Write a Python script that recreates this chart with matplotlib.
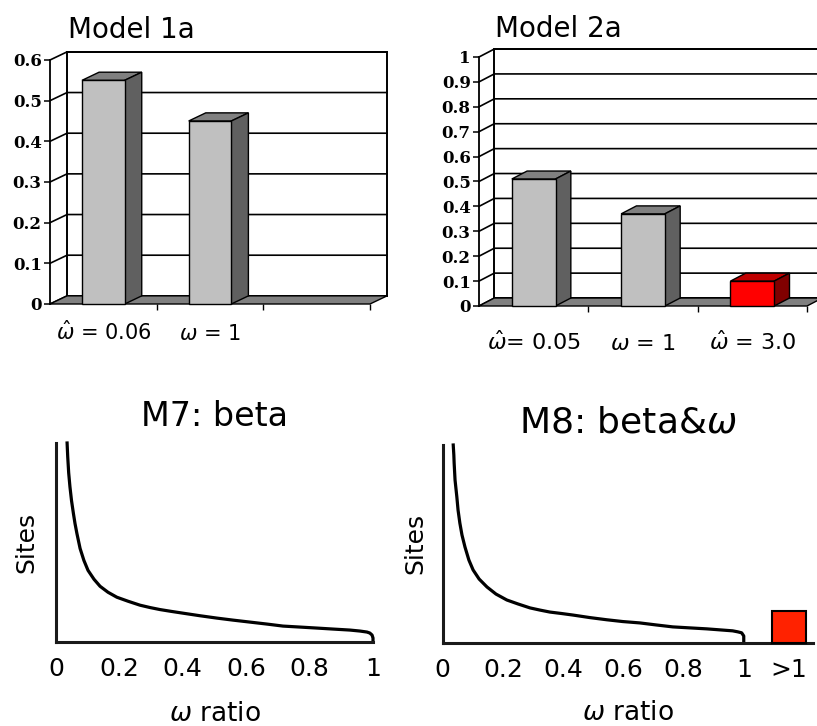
import matplotlib.pyplot as plt
import numpy as np

# Model 1a: proportions of sites in each site class
m1a_cats = [r"$\hat{\omega}$ = 0.06", r"$\omega$ = 1", ""]
m1a_props = [0.55, 0.45]
m1a_ticks = [0, 0.1, 0.2, 0.3, 0.4, 0.5, 0.6]
m1a_ticklabels = ["0", "0.1", "0.2", "0.3", "0.4", "0.5", "0.6"]

# Model 2a
m2a_cats = [r"$\hat{\omega}$= 0.05", r"$\omega$ = 1", r"$\hat{\omega}$ = 3.0"]
m2a_props = [0.51, 0.37, 0.10]
m2a_ticks = [0, 0.1, 0.2, 0.3, 0.4, 0.5, 0.6, 0.7, 0.8, 0.9, 1.0]
m2a_ticklabels = ["0", "0.1", "0.2", "0.3", "0.4", "0.5", "0.6", "0.7", "0.8", "0.9", "1"]

# M7: beta distribution of omega
m7_x = [0.035, 0.037, 0.040, 0.044, 0.049, 0.055, 0.060, 0.066, 0.076,
	0.088, 0.101, 0.120, 0.139, 0.164, 0.192, 0.227, 0.265, 0.297, 0.328,
	0.363, 0.400, 0.454, 0.508, 0.558, 0.612, 0.666, 0.716, 0.770, 0.823,
	0.874, 0.927, 0.959, 0.981, 0.990, 0.997, 1.0, 1.0]
m7_y = [1.0, 0.93, 0.85, 0.78, 0.71, 0.645, 0.595, 0.545, 0.47,
	0.41, 0.36, 0.315, 0.28, 0.25, 0.225, 0.205, 0.185, 0.173, 0.163,
	0.154, 0.145, 0.132, 0.12, 0.11, 0.10, 0.09, 0.08, 0.075, 0.07,
	0.065, 0.06, 0.055, 0.05, 0.045, 0.035, 0.02, 0.0]

# M8: beta & omega
m8_x = [0.035, 0.037, 0.038, 0.041, 0.047, 0.051, 0.057, 0.064, 0.074, 0.087,
	0.101, 0.121, 0.147, 0.177, 0.213, 0.250, 0.290, 0.323, 0.356, 0.393,
	0.432, 0.489, 0.545, 0.598, 0.655, 0.708, 0.764, 0.820, 0.877, 0.920,
	0.963, 0.980, 0.993, 1.0, 1.0, 1.0]
m8_y = [1.0, 0.949, 0.909, 0.823, 0.737, 0.671, 0.605, 0.545, 0.484, 0.418,
	0.368, 0.322, 0.282, 0.246, 0.216, 0.196, 0.176, 0.165, 0.155, 0.148,
	0.14, 0.127, 0.116, 0.107, 0.10, 0.09, 0.08, 0.075, 0.07, 0.065,
	0.06, 0.055, 0.05, 0.034, 0.024, 0.0]
m8_over_x = [1.15]
m8_over_height = [0.16]

ratio_ticks = [0, 0.2, 0.4, 0.6, 0.8, 1.0]
ratio_ticklabels = ["0", "0.2", "0.4", "0.6", "0.8", "1"]

GREY = ("#c0c0c0", "#606060", "#808080")
RED = ("#ff0000", "#800000", "#c00000")

W, H = 817, 726


def px_axes(fig, left, top, right, bottom):
	return fig.add_axes([left / W, 1 - bottom / H, (right - left) / W, (bottom - top) / H])


def bar_panel(ax, values, faces, ticks, ticklabels, cats, dx, dy, label_pad, label_size):
	n = len(cats)
	top = ticks[-1]
	ax.set_xlim(0, n)
	ax.set_ylim(0, top)
	ax.patch.set_visible(False)
	for side in ["top", "right", "bottom"]:
		ax.spines[side].set_visible(False)
	ax.spines["left"].set_linewidth(1.3)
	ax.spines["left"].set_zorder(6)

	# back wall, grid on back wall and side wall, floor
	ax.fill([dx, n + dx, n + dx, dx], [dy, dy, top + dy, top + dy],
		facecolor="white", edgecolor="black", lw=1.4, clip_on=False, zorder=0)
	for t in ticks:
		ax.plot([0, dx, n + dx], [t, t + dy, t + dy], color="black", lw=1.2,
			clip_on=False, zorder=1)
	ax.fill([0, n, n + dx, dx], [0, 0, dy, dy], facecolor="#808080",
		edgecolor="black", lw=1.0, clip_on=False, zorder=2)

	w = 0.4
	xs = np.arange(len(values)) + 0.5
	for x, v, (front, side, lid) in zip(xs, values, faces):
		ax.fill([x - w / 2, x + w / 2, x + w / 2 + dx, x - w / 2 + dx],
			[v, v, v + dy, v + dy], facecolor=lid, edgecolor="black", lw=1.0,
			clip_on=False, zorder=3)
		ax.fill([x + w / 2, x + w / 2 + dx, x + w / 2 + dx, x + w / 2],
			[0, dy, v + dy, v], facecolor=side, edgecolor="black", lw=1.0,
			clip_on=False, zorder=3)
	ax.bar(xs, values, width=w, color=[f[0] for f in faces], edgecolor="black",
		lw=1.0, zorder=4, clip_on=False)

	ax.set_yticks(ticks, ticklabels)
	ax.tick_params(axis="y", length=4, width=1.1, pad=2)
	for lbl in ax.get_yticklabels():
		lbl.set_fontfamily("DejaVu Serif")
		lbl.set_fontweight("bold")
		lbl.set_fontsize(12)

	ax.set_xticks(np.arange(n) + 0.5, cats)
	ax.set_xticks(np.arange(1, n + 1), minor=True)
	ax.tick_params(axis="x", which="major", length=0, pad=label_pad, labelsize=label_size)
	ax.tick_params(axis="x", which="minor", length=4, width=1.0)
	for lbl in ax.get_xticklabels():
		lbl.set_verticalalignment("baseline")


def curve_panel(ax, x, y, xmax, title, title_size, title_pad, ylabel_pad, xlabel_pad):
	ax.plot(x, y, color="black", lw=2.3, solid_joinstyle="round", clip_on=False)
	ax.set_xlim(0, xmax)
	ax.set_ylim(0, 1)
	for side in ["top", "right"]:
		ax.spines[side].set_visible(False)
	for side in ["left", "bottom"]:
		ax.spines[side].set_linewidth(2.2)
		ax.spines[side].set_color("#1a1a1a")
	ax.set_yticks([])
	ax.tick_params(axis="x", length=0, pad=11, labelsize=18)
	ax.set_ylabel("Sites", fontsize=18, labelpad=ylabel_pad)
	ax.set_xlabel(r"$\omega$ ratio", fontsize=19, labelpad=xlabel_pad)
	ax.set_title(title, fontsize=title_size, pad=title_pad)


def main() -> None:
	fig = plt.figure(figsize=(W / 100, H / 100), dpi=100)

	ax1 = px_axes(fig, 50, 60, 370, 304)
	bar_panel(ax1, m1a_props, [GREY, GREY], m1a_ticks, m1a_ticklabels, m1a_cats,
		0.16, 0.02, 26, 15)
	fig.text(68 / W, 1 - 38 / H, "Model 1a", fontsize=20, ha="left", va="baseline")

	ax2 = px_axes(fig, 479, 57, 807, 306)
	bar_panel(ax2, m2a_props, [GREY, GREY, RED], m2a_ticks, m2a_ticklabels, m2a_cats,
		0.14, 0.032, 32, 16)
	fig.text(495 / W, 1 - 37 / H, "Model 2a", fontsize=20, ha="left", va="baseline")

	ax3 = px_axes(fig, 56, 443, 373, 642)
	curve_panel(ax3, m7_x, m7_y, 1.0, "M7: beta", 24, 12, 13, 14)
	ax3.set_xticks(ratio_ticks, ratio_ticklabels)

	ax4 = px_axes(fig, 442.7, 445, 813, 642.7)
	curve_panel(ax4, m8_x, m8_y, 1.23, r"M8: beta&$\omega$", 26, 9, 11, 13)
	ax4.bar(m8_over_x, m8_over_height, width=0.113, color="#ff2200",
		edgecolor="black", lw=1.5, clip_on=False, zorder=3)
	ax4.set_xticks(ratio_ticks + m8_over_x, ratio_ticklabels + [">1"])

	fig.savefig("out.png", dpi=100)


if __name__ == "__main__":
	main()
